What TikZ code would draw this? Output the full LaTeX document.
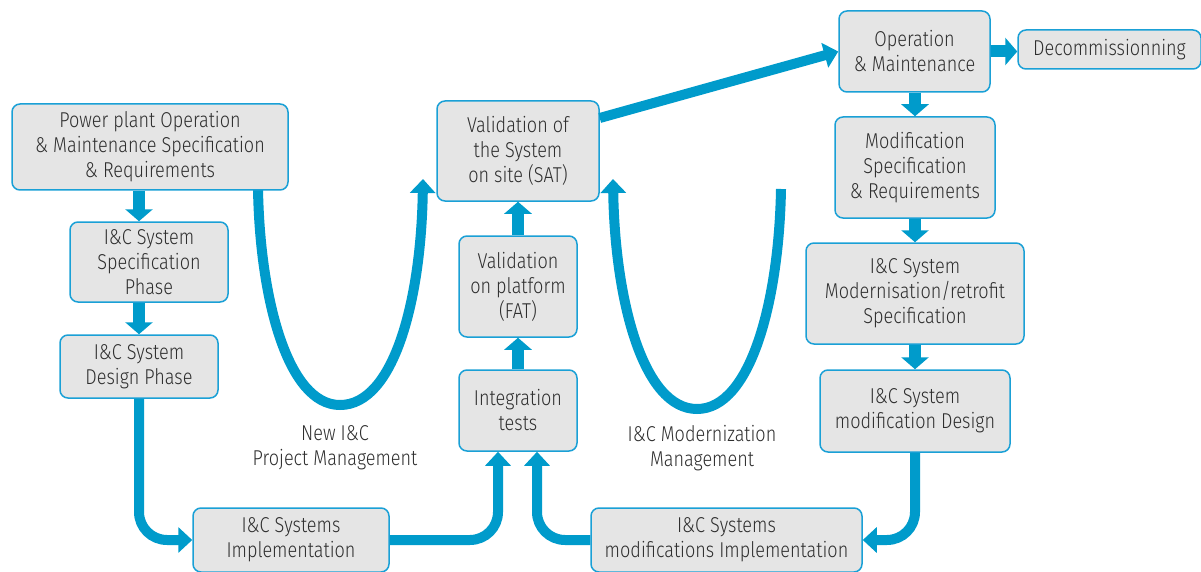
\documentclass[tikz,border=0pt]{standalone}
\usepackage{fontspec}
\setmainfont{Fira Sans Light}[FakeStretch=0.84]
\usetikzlibrary{arrows.meta,calc}
\definecolor{arrblue}{HTML}{009BCB}
\definecolor{edgeblue}{HTML}{1AA0D6}
\definecolor{boxgray}{HTML}{E5E5E5}
\definecolor{txtgray}{HTML}{2E2E2E}
\tikzset{
  box/.style={draw=edgeblue, line width=1.5pt, fill=boxgray, rounded corners=8pt,
    align=center, inner sep=0pt, text=txtgray, font=\fontsize{21.5}{25}\selectfont},
  lbl/.style={align=center, inner sep=0pt, text=txtgray, font=\fontsize{21.5}{25}\selectfont},
  sarrow/.style={draw=arrblue, line width=12pt, -{Triangle[length=12pt,width=27pt]}},
  barrow/.style={draw=arrblue, line width=10pt, -{Triangle[length=14pt,width=25pt]}},
  ucurve/.style={draw=arrblue, line width=10pt},
}
\begin{document}
\begin{tikzpicture}[x=1pt,y=-1pt]
\useasboundingbox (0,0) rectangle (1201,572);
% U curves
\draw[ucurve, -{Triangle[length=14pt,width=25pt]}] (258,189) .. controls (260,300) and (288,405) .. (340,405)
   .. controls (394,405) and (421,300) .. (423,179);
\draw[ucurve, -{Triangle[length=14pt,width=25pt]}] (781,189) .. controls (779,300) and (751,409) .. (697,409)
   .. controls (643,409) and (615,300) .. (613,179);
% nodes
\node[box, minimum width=276pt, minimum height=86pt] (pp) at (150,147) {Power plant Operation\\\& Maintenance Specification\\\& Requirements};
\node[box, minimum width=158pt, minimum height=80pt] (spec) at (149,262) {I\&C System\\Specification\\Phase};
\node[box, minimum width=158pt, minimum height=63pt] (design) at (139,366.5) {I\&C System\\Design Phase};
\node[box, minimum width=196pt, minimum height=64pt] (impl) at (291,540) {I\&C Systems\\Implementation};
\node[box, minimum width=118pt, minimum height=81pt] (int) at (518,410.5) {Integration\\tests};
\node[box, minimum width=118pt, minimum height=101pt] (fat) at (518,286.5) {Validation\\on platform\\(FAT)};
\node[box, minimum width=162pt, minimum height=100pt] (sat) at (518,151) {Validation of\\the System\\on site (SAT)};
\node[box, minimum width=151pt, minimum height=81pt] (op) at (914.5,51.5) {Operation\\\& Maintenance};
\node[box, minimum width=183pt, minimum height=39pt] (dec) at (1109.5,49.5) {Decommissionning};
\node[box, minimum width=160pt, minimum height=101pt] (mspec) at (915,167.5) {Modification\\Specification\\\& Requirements};
\node[box, minimum width=218pt, minimum height=101pt] (modern) at (915,293.5) {I\&C System\\Modernisation/retrofit\\Specification};
\node[box, minimum width=190pt, minimum height=82pt] (mdesign) at (915,411) {I\&C System\\modification Design};
\node[box, minimum width=271pt, minimum height=64pt] (mimpl) at (726.5,540) {I\&C Systems\\modifications Implementation};
\node[lbl] (newpm) at (335,448) {New I\&C\\Project Management};
\node[lbl] (modm) at (702,448) {I\&C Modernization\\Management};
% short arrows
\draw[sarrow] (pp.south -| design) -- (spec.north -| design);
\draw[sarrow] (spec.south -| design) -- (design.north);
\draw[sarrow] (int.north) -- (fat.south);
\draw[sarrow] (fat.north) -- (sat.south);
\draw[sarrow] (op.south -| mspec) -- (mspec.north);
\draw[sarrow] (mspec.south) -- (modern.north);
\draw[sarrow] (modern.south) -- (mdesign.north);
\draw[sarrow] (op.east) -- (op.east -| dec.west);
% long arrows
\draw[barrow] ([yshift=33pt]sat.east) -- (op.west);
\draw[barrow, rounded corners=28pt] (design.south) |- (impl.west);
\draw[barrow, rounded corners=28pt] (impl.east) -| ([xshift=-20pt]int.south);
\draw[barrow, rounded corners=28pt] (mimpl.west) -| ([xshift=19pt]int.south);
\draw[barrow, rounded corners=28pt] (mdesign.south) |- (mimpl.east);
\end{tikzpicture}
\end{document}
